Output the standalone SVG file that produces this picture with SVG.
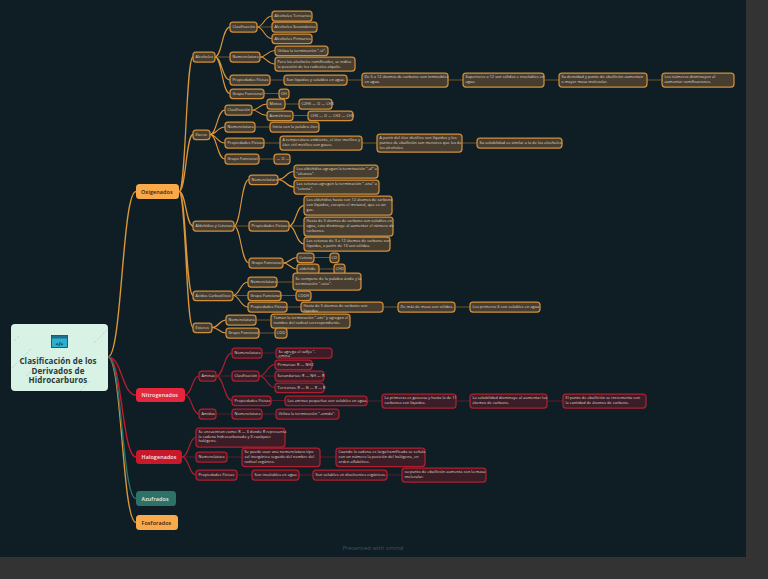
<svg xmlns="http://www.w3.org/2000/svg" width="768" height="579" viewBox="0 0 768 579">
<style>
text{font-family:"Open Sans","Liberation Sans",sans-serif;font-size:3.75px;letter-spacing:.09px;fill:#e2decf}
.o rect{fill:#473e30;stroke:#d18e3a;stroke-width:1.25}
.r rect{fill:#3b1d27;stroke:#b01f30;stroke-width:1.25}
.c path{fill:none;stroke-width:1.1}
.co path{stroke:#dc963a}
.cr path{stroke:#b01f30}
.d path{stroke-width:.8;opacity:.6}
.t text{font-size:5.4px;font-weight:600;letter-spacing:.1px;fill:#f3e9e6}
.t.k text{fill:#2a2014}
</style>
<rect width="768" height="579" fill="#333333"/>
<rect width="746" height="557" fill="#0f1e25"/>
<text x="373" y="549.500" text-anchor="middle" style="font-size:5.800px;fill:#46535a">Presented with xmind</text>
<g id="connectors" class="c">
<g class="co">
<path d="M108 357C122 357 122 191.500 136 191.500" style="stroke-width:1.4"/>
<path d="M108 357C122 357 122 522.500 136 522.500" style="stroke-width:1.4"/>
<path d="M179 191.500C186 191.500 186 57 193 57M179 191.500C186 191.500 186 134.500 193 134.500M179 191.500C186 191.500 186 226 193 226M179 191.500C186 191.500 186 295.500 193 295.500M179 191.500C186 191.500 186 327.500 193 327.500" style="stroke-width:1.3"/>
<path d="M215 57C222 57 222 27 230 27M215 57C222 57 222 80 230 80M215 57C222 57 222 93.500 230 93.500M257 27C264 27 264 16 272 16M257 27C264 27 264 38.500 272 38.500M260 57C267 57 267 50.500 275 50.500M260 57C267 57 267 64 275 64M210 134.500C217 134.500 217 110 225 110M210 134.500C217 134.500 217 127 225 127M210 134.500C217 134.500 217 143 225 143M210 134.500C217 134.500 217 159 225 159M252 110C259 110 259 104 267 104M252 110C259 110 259 115.500 267 115.500M234 226C241 226 241 179.500 249 179.500M234 226C241 226 241 263 249 263M278 179.500C286 179.500 286 171.500 294 171.500M278 179.500C286 179.500 286 187 294 187M289 226C296 226 296 205.500 304 205.500M289 226C296 226 296 244 304 244M283 263C290 263 290 257.500 297 257.500M283 263C290 263 290 269 297 269M233 295.500C240 295.500 240 282 248 282M233 295.500C240 295.500 240 307 248 307M212 327.500C219 327.500 219 320 226 320M212 327.500C219 327.500 219 333 226 333"/>
<g class="d"><path d="M215 57H230M257 27H272M270 80H284M347 80H362M448 80H463M544 80H559M647 80H662M264 93.500H279M285 104H299M293 115.500H308M255 127H270M264 143H280M362 143H377M462 143H477M259 159H274M234 226H249M289 226H304M314 257.500H330M319 269H334M277 282H293M233 295.500H248M281 295.500H296M287 307H301M383 307H398M455 307H470M256 320H271M259 333H275"/></g>
</g>
<g class="cr">
<path d="M108 357C122 357 122 395 136 395" style="stroke-width:1.4"/>
<path d="M108 357C122 357 122 457 136 457" style="stroke-width:1.4;stroke:#c9182b"/>
<path d="M185 395C192 395 192 376 199 376M185 395C192 395 192 414 199 414M216 376C224 376 224 353 232 353M216 376C224 376 224 400.500 232 400.500M259 376C267 376 267 364.500 275 364.500M259 376C267 376 267 387.500 275 387.500M182 457C189 457 189 437.500 196 437.500M182 457C189 457 189 475 196 475"/>
<g class="d"><path d="M216 376H232M259 376H275M262 353H276M271 400.500H285M367 401H382M456 401H470M547 401H563M216 414H232M262 414H276M182 457H196M227 457H242M320 457H336M237 475H252M299 475H313M387 475H402"/></g>
</g>
<path d="M108 357C122 357 122 498.500 136 498.500" style="stroke:#2d7268;stroke-width:1.4"/>
</g>
<g id="root">
<rect x="11" y="324" width="97" height="67" rx="4" fill="#d8f2e5"/>
<path d="M12 368L32 348M26 376L46 356M80 391L90 381M94 343L108 329M14 341L19 336" stroke="#aebfb6" stroke-width=".5" stroke-dasharray="3 1" fill="none"/>
<rect x="51.500" y="335.500" width="16" height="12" fill="#2bb0d0" stroke="#1c3a44" stroke-width=".8"/>
<rect x="52" y="336" width="15" height="2.500" fill="#1d6f8a"/>
<text x="59.500" y="345.500" text-anchor="middle" style="font-size:5px;font-weight:700;fill:#10222a">&lt;/&gt;</text>
<text text-anchor="middle" style="font-size:8px;font-weight:700;fill:#2a3a3c"><tspan x="58" y="363.500">Clasificación de los</tspan><tspan x="58" y="373.500">Derivados de</tspan><tspan x="58" y="383">Hidrocarburos</tspan></text>
</g>
<g id="oxigenados" class="t k"><rect x="136" y="184" width="43" height="15" rx="3.500" fill="#f9a94a"/><text x="141" y="193.500">Oxigenados</text></g>
<g id="nitrogenados" class="t"><rect x="136" y="388" width="49" height="14" rx="3.500" fill="#e6263d"/><text x="141.500" y="397">Nitrogenados</text></g>
<g id="halogenados" class="t"><rect x="136" y="450" width="46" height="14" rx="3.500" fill="#c9182b"/><text x="141.500" y="459">Halogenados</text></g>
<g id="azufrados" class="t"><rect x="136" y="491" width="40" height="15" rx="3.500" fill="#2d7268"/><text x="141.500" y="500.500">Azufrados</text></g>
<g id="fosforados" class="t k"><rect x="136" y="515" width="42" height="15" rx="3.500" fill="#f9a94a"/><text x="141.500" y="524.500">Fosforados</text></g>
<g class="o">
<g id="alcoholes"><rect x="193" y="52" width="22" height="10" rx="3"/><text x="195.500" y="58.300">Alcoholes</text></g>
<g id="alc-clasif"><rect x="230" y="22" width="27" height="10" rx="3"/><text x="232.500" y="28.300">Clasificación</text></g>
<g id="alc-ter"><rect x="272" y="11" width="40" height="10" rx="3"/><text x="274.500" y="17.300">Alcoholes Terciarios</text></g>
<g id="alc-sec"><rect x="272" y="22" width="45" height="10" rx="3"/><text x="274.500" y="28.300">Alcoholes Secundarios</text></g>
<g id="alc-pri"><rect x="272" y="34" width="40" height="9.500" rx="3"/><text x="274.500" y="40">Alcoholes Primarios</text></g>
<g id="alc-nom"><rect x="230" y="52" width="30" height="10" rx="3"/><text x="232.500" y="58.300">Nomenclatura</text></g>
<g id="alc-nom1"><rect x="275" y="46" width="53" height="9.500" rx="3"/><text x="277.500" y="52">Utiliza la terminación "-ol".</text></g>
<g id="alc-nom2"><rect x="275" y="57" width="80" height="14" rx="3"/><text><tspan x="277.500" y="63">Para los alcoholes ramificados, se indica</tspan><tspan x="277.500" y="67.600">la posición de los radicales alquilo.</tspan></text></g>
<g id="alc-prop"><rect x="230" y="75" width="40" height="10" rx="3"/><text x="232.500" y="81.300">Propiedades Físicas</text></g>
<g id="alc-p1"><rect x="284" y="75" width="63" height="10" rx="3"/><text x="286.500" y="81.300">Son líquidos y solubles en agua.</text></g>
<g id="alc-p2"><rect x="362" y="73" width="86" height="14" rx="3"/><text><tspan x="364.500" y="77.800">De 5 a 12 átomos de carbono: son inmiscibles</tspan><tspan x="364.500" y="82.500">en agua.</tspan></text></g>
<g id="alc-p3"><rect x="463" y="73" width="81" height="14" rx="3"/><text><tspan x="465.500" y="77.800">Superiores a 12 son sólidos e insolubles en</tspan><tspan x="465.500" y="82.500">agua.</tspan></text></g>
<g id="alc-p4"><rect x="559" y="73" width="88" height="14" rx="3"/><text><tspan x="561.500" y="77.800">Su densidad y punto de ebullición aumentan</tspan><tspan x="561.500" y="82.500">a mayor masa molecular.</tspan></text></g>
<g id="alc-p5"><rect x="662" y="73" width="72" height="14" rx="3"/><text><tspan x="664.500" y="77.800">Los isómeros disminuyen al</tspan><tspan x="664.500" y="82.500">aumentar ramificaciones.</tspan></text></g>
<g id="alc-gf"><rect x="230" y="89" width="34" height="9.500" rx="3"/><text x="232.500" y="95">Grupo Funcional</text></g>
<g id="alc-oh"><rect x="279" y="89" width="10" height="9.500" rx="3"/><text x="281" y="95">OH</text></g>
<g id="eteres"><rect x="193" y="130" width="17" height="9.500" rx="3"/><text x="195.500" y="136">Éteres</text></g>
<g id="et-clasif"><rect x="225" y="105" width="27" height="10" rx="3"/><text x="227.500" y="111.300">Clasificación</text></g>
<g id="et-mix"><rect x="267" y="99" width="18" height="10" rx="3"/><text x="269.500" y="105.300">Mixtos</text></g>
<g id="et-mix1"><rect x="299" y="99" width="33" height="10" rx="3"/><text x="301.500" y="105.300">C2H5 — O — CH3</text></g>
<g id="et-asi"><rect x="267" y="111" width="26" height="9.500" rx="3"/><text x="269.500" y="117">Asimétricos</text></g>
<g id="et-asi1"><rect x="308" y="111" width="45" height="9.500" rx="3"/><text x="310.500" y="117">CH3 — O — CH2 — CH3</text></g>
<g id="et-nom"><rect x="225" y="122" width="30" height="10" rx="3"/><text x="227.500" y="128.300">Nomenclatura</text></g>
<g id="et-nom1"><rect x="270" y="122" width="49" height="10" rx="3"/><text x="272.500" y="128.300">Inicia con la palabra éter.</text></g>
<g id="et-prop"><rect x="225" y="138" width="39" height="10" rx="3"/><text x="227.500" y="144.300">Propiedades Físicas</text></g>
<g id="et-p1"><rect x="280" y="136" width="82" height="14" rx="3"/><text><tspan x="282.500" y="140.800">A temperatura ambiente, el éter metílico y</tspan><tspan x="282.500" y="145.500">éter etil metílico son gases.</tspan></text></g>
<g id="et-p2"><rect x="377" y="134" width="85" height="18" rx="3"/><text><tspan x="379.500" y="139.300">A partir del éter dietílico son líquidos y los</tspan><tspan x="379.500" y="144">puntos de ebullición son menores que los de</tspan><tspan x="379.500" y="148.700">los alcoholes</tspan></text></g>
<g id="et-p3"><rect x="477" y="138" width="85" height="10" rx="3"/><text x="479.500" y="144.300">Su solubilidad es similar a la de los alcoholes.</text></g>
<g id="et-gf"><rect x="225" y="154" width="34" height="10" rx="3"/><text x="227.500" y="160.300">Grupo Funcional</text></g>
<g id="et-o"><rect x="274" y="154" width="16" height="10" rx="3"/><text x="276.500" y="160.300">— O —</text></g>
<g id="aldehidos"><rect x="193" y="221" width="41" height="10" rx="3"/><text x="195.500" y="227.300">Aldehídos y Cetonas</text></g>
<g id="al-nom"><rect x="249" y="175" width="29" height="9.500" rx="3"/><text x="251.500" y="181">Nomenclatura</text></g>
<g id="al-n1"><rect x="294" y="165" width="84" height="13" rx="3"/><text><tspan x="296.500" y="170">Los aldehídos agregan la terminación "-al" a</tspan><tspan x="296.500" y="174.700">"alcanos".</tspan></text></g>
<g id="al-n2"><rect x="294" y="180" width="85" height="14" rx="3"/><text><tspan x="296.500" y="185.200">Las cetonas agregan la terminación "-ona" a</tspan><tspan x="296.500" y="189.900">"cetona".</tspan></text></g>
<g id="al-prop"><rect x="249" y="221" width="40" height="10" rx="3"/><text x="251.500" y="227.300">Propiedades Físicas</text></g>
<g id="al-p1"><rect x="304" y="196" width="88" height="19" rx="3"/><text><tspan x="306.500" y="201.300">Los aldehídos hasta con 12 átomos de carbono</tspan><tspan x="306.500" y="206">son líquidos, excepto el metanal, que es un</tspan><tspan x="306.500" y="210.700">gas.</tspan></text></g>
<g id="al-p2"><rect x="304" y="217" width="89" height="19" rx="3"/><text><tspan x="306.500" y="222.300">Hasta de 5 átomos de carbono son solubles en</tspan><tspan x="306.500" y="227">agua, esta disminuye al aumentar el número de</tspan><tspan x="306.500" y="231.700">carbonos.</tspan></text></g>
<g id="al-p3"><rect x="304" y="237" width="86" height="14" rx="3"/><text><tspan x="306.500" y="242.300">Las cetonas de 3 a 12 átomos de carbono son</tspan><tspan x="306.500" y="247">líquidas, a partir de 13 son sólidas.</tspan></text></g>
<g id="al-gf"><rect x="249" y="258" width="34" height="10" rx="3"/><text x="251.500" y="264.300">Grupo Funcional</text></g>
<g id="al-cet"><rect x="297" y="253" width="17" height="9.500" rx="3"/><text x="299.500" y="259">Cetona</text></g>
<g id="al-co"><rect x="330" y="253" width="9" height="9.500" rx="3"/><text x="331.500" y="259">CO</text></g>
<g id="al-ald"><rect x="297" y="264" width="22" height="10" rx="3"/><text x="299.500" y="270.300">aldehído</text></g>
<g id="al-cho"><rect x="334" y="264" width="11" height="10" rx="3"/><text x="335.800" y="270.300">CHO</text></g>
<g id="acidos"><rect x="193" y="291" width="40" height="9.500" rx="3"/><text x="195.500" y="297">Ácidos Carboxílicos</text></g>
<g id="ac-nom"><rect x="248" y="277" width="29" height="10" rx="3"/><text x="250.500" y="283.300">Nomenclatura</text></g>
<g id="ac-n1"><rect x="293" y="273" width="68" height="17" rx="3"/><text><tspan x="295.500" y="280">Se compone de la palabra ácido y la</tspan><tspan x="295.500" y="284.700">terminación "-oico".</tspan></text></g>
<g id="ac-gf"><rect x="248" y="291" width="33" height="9.500" rx="3"/><text x="250.500" y="297">Grupo Funcional</text></g>
<g id="ac-cooh"><rect x="296" y="291" width="15" height="9.500" rx="3"/><text x="298" y="297">COOH</text></g>
<g id="ac-prop"><rect x="248" y="302" width="39" height="10" rx="3"/><text x="250.500" y="308.300">Propiedades Físicas</text></g>
<g id="ac-p1"><rect x="301" y="302" width="82" height="10" rx="3"/><text><tspan x="303.500" y="307">Hasta de 5 átomos de carbono son</tspan><tspan x="303.500" y="311.700">líquidos</tspan></text></g>
<g id="ac-p2"><rect x="398" y="302" width="57" height="10" rx="3"/><text x="400.500" y="308.300">De más de masa son sólidos.</text></g>
<g id="ac-p3"><rect x="470" y="302" width="70" height="10" rx="3"/><text x="472.500" y="308.300">Los primeros 6 son solubles en agua.</text></g>
<g id="esteres"><rect x="193" y="323" width="19" height="9.500" rx="3"/><text x="195.500" y="329">Ésteres</text></g>
<g id="es-nom"><rect x="226" y="315" width="30" height="10" rx="3"/><text x="228.500" y="321.300">Nomenclatura</text></g>
<g id="es-n1"><rect x="271" y="314" width="79" height="14" rx="3"/><text><tspan x="273.500" y="319">Toman la terminación "-ato" y agregan el</tspan><tspan x="273.500" y="323.700">nombre del radical correspondiente.</tspan></text></g>
<g id="es-gf"><rect x="226" y="328" width="33" height="10" rx="3"/><text x="228.500" y="334.300">Grupo Funcional</text></g>
<g id="es-coo"><rect x="275" y="328" width="12" height="10" rx="3"/><text x="276.800" y="334.300">COO</text></g>
</g>
<g class="r">
<g id="aminas"><rect x="199" y="371" width="17" height="10" rx="3"/><text x="201.500" y="377.300">Aminas</text></g>
<g id="am-nom"><rect x="232" y="348" width="30" height="10" rx="3"/><text x="234.500" y="354.300">Nomenclatura</text></g>
<g id="am-n1"><rect x="276" y="348" width="56" height="10" rx="3"/><text><tspan x="278.500" y="352.500">Se agrega el sufijo "-</tspan><tspan x="278.500" y="357">amina"</tspan></text></g>
<g id="am-cl"><rect x="232" y="371" width="27" height="10" rx="3"/><text x="234.500" y="377.300">Clasificación</text></g>
<g id="am-c1"><rect x="275" y="360" width="37" height="9.500" rx="3"/><text x="277.500" y="366">Primarias: R — NH2</text></g>
<g id="am-c2"><rect x="275" y="371" width="49" height="10" rx="3"/><text x="277.500" y="377.300">Secundarias: R — NH — R</text></g>
<g id="am-c3"><rect x="275" y="383" width="49" height="9.500" rx="3"/><text x="277.500" y="389">Terciarias: R — N — R — R</text></g>
<g id="am-prop"><rect x="232" y="396" width="39" height="9.500" rx="3"/><text x="234.500" y="402">Propiedades Físicas</text></g>
<g id="am-p1"><rect x="285" y="396" width="82" height="9.500" rx="3"/><text x="287.500" y="402">Las aminas pequeñas son solubles en agua.</text></g>
<g id="am-p2"><rect x="382" y="394" width="74" height="14" rx="3"/><text><tspan x="384.500" y="398.800">La primeras es gaseosa y hasta la de 11</tspan><tspan x="384.500" y="403.500">carbonos son líquidas.</tspan></text></g>
<g id="am-p3"><rect x="470" y="394" width="77" height="14" rx="3"/><text><tspan x="472.500" y="398.800">La solubilidad disminuye al aumentar los</tspan><tspan x="472.500" y="403.500">átomos de carbono.</tspan></text></g>
<g id="am-p4"><rect x="563" y="394" width="83" height="14" rx="3"/><text><tspan x="565.500" y="398.800">El punto de ebullición se incrementa con</tspan><tspan x="565.500" y="403.500">la cantidad de átomos de carbono.</tspan></text></g>
<g id="amidas"><rect x="199" y="409" width="17" height="10" rx="3"/><text x="201.500" y="415.300">Amidas</text></g>
<g id="ami-nom"><rect x="232" y="409" width="30" height="10" rx="3"/><text x="234.500" y="415.300">Nomenclatura</text></g>
<g id="ami-n1"><rect x="276" y="409" width="63" height="10" rx="3"/><text x="278.500" y="415.300">Utiliza la terminación "-amida".</text></g>
<g id="ha-1"><rect x="196" y="428" width="89" height="19" rx="3"/><text><tspan x="198.500" y="433">Se encuentran como: R — X donde R representa</tspan><tspan x="198.500" y="437.700">la cadena hidrocarbonada y X cualquier</tspan><tspan x="198.500" y="442.400">halógeno.</tspan></text></g>
<g id="ha-nom"><rect x="196" y="452" width="31" height="10" rx="3"/><text x="198.500" y="458.300">Nomenclatura</text></g>
<g id="ha-n1"><rect x="242" y="448" width="78" height="18.500" rx="3"/><text><tspan x="244.500" y="453.300">Se puede usar una nomenclatura tipo</tspan><tspan x="244.500" y="458">sal inorgánica seguido del nombre del</tspan><tspan x="244.500" y="462.700">radical orgánico.</tspan></text></g>
<g id="ha-n2"><rect x="336" y="448" width="89" height="18.500" rx="3"/><text><tspan x="338.500" y="453.300">Cuando la cadena es larga/ramificada se señala</tspan><tspan x="338.500" y="458">con un número la posición del halógeno, en</tspan><tspan x="338.500" y="462.700">orden alfabético.</tspan></text></g>
<g id="ha-prop"><rect x="196" y="470" width="41" height="10" rx="3"/><text x="198.500" y="476.300">Propiedades Físicas</text></g>
<g id="ha-p1"><rect x="252" y="470" width="47" height="10" rx="3"/><text x="254.500" y="476.300">Son insolubles en agua</text></g>
<g id="ha-p2"><rect x="313" y="470" width="74" height="10" rx="3"/><text x="315.500" y="476.300">Son solubles en disolventes orgánicos.</text></g>
<g id="ha-p3"><rect x="402" y="468" width="84" height="14" rx="3"/><text><tspan x="404.500" y="472.800">su punto de ebullición aumenta con la masa</tspan><tspan x="404.500" y="477.500">molecular.</tspan></text></g>
</g>
</svg>
